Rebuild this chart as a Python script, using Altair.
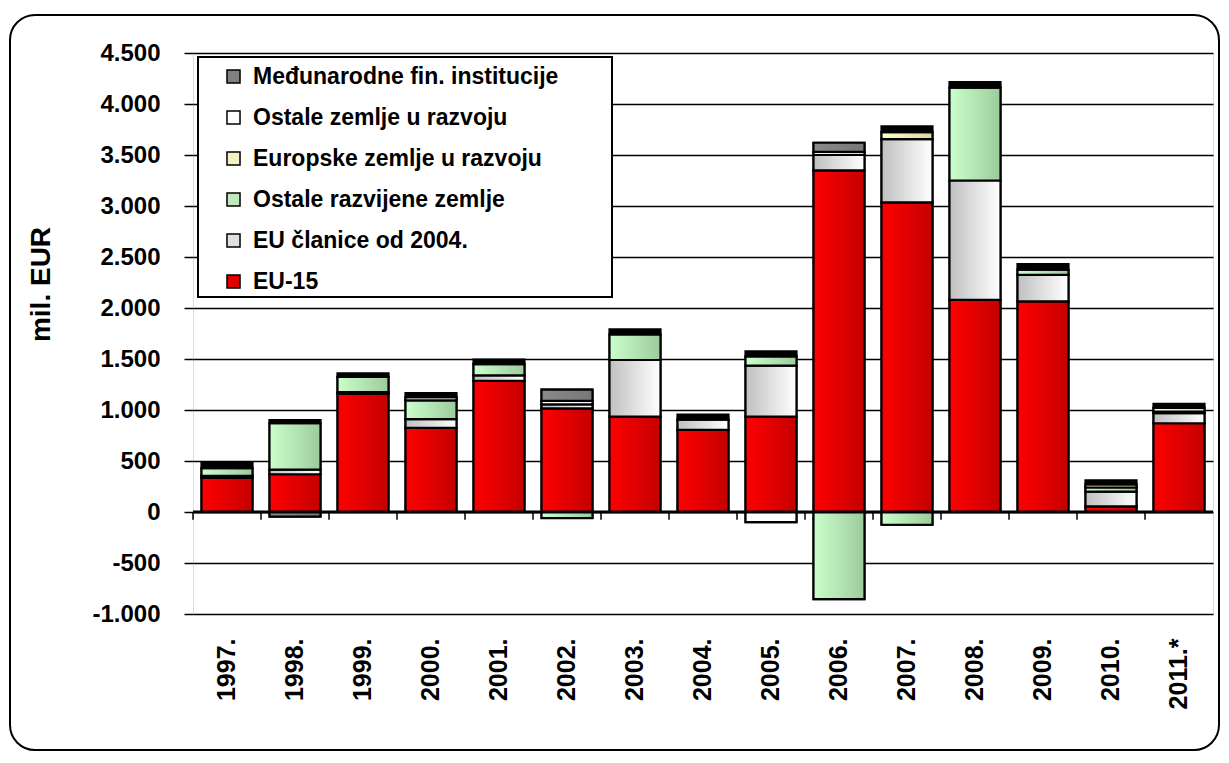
import altair as alt
import pandas as pd

years = ["1997.", "1998.", "1999.", "2000.", "2001.", "2002.", "2003.", "2004.",
         "2005.", "2006.", "2007.", "2008.", "2009.", "2010.", "2011.*"]

eu15 = [335, 370, 1160, 825, 1285, 1015, 935, 805, 935, 3350, 3035, 2080, 2065, 55, 870]
eu_2004 = [20, 45, 15, 85, 55, 40, 555, 100, 500, 150, 620, 1170, 260, 145, 100]
ostale_razvijene = [75, 455, 150, 185, 110, -60, 250, 0, 90, -855, -125, 910, 50, 40, 15]
europske_u_razvoju = [0, 0, 0, 0, 0, 0, 0, 0, 0, 30, 70, 0, 0, 30, 35]
ostale_u_razvoju = [0, 0, 0, 30, 0, 35, 0, 0, -100, 0, 0, 0, 0, 0, 0]
medjunarodne = [0, -45, 0, 0, 0, 110, 0, 0, 0, 90, 0, 0, 0, 0, 0]
ostalo = [60, 30, 35, 40, 45, 0, 50, 50, 50, 0, 55, 55, 55, 40, 40]

series_names = ["EU-15", "EU članice od 2004.", "Ostale razvijene zemlje",
                "Europske zemlje u razvoju", "Ostale zemlje u razvoju",
                "Međunarodne fin. institucije", "Ostalo"]
series_values = [eu15, eu_2004, ostale_razvijene, europske_u_razvoju,
                 ostale_u_razvoju, medjunarodne, ostalo]

legend_order = ["Međunarodne fin. institucije", "Ostale zemlje u razvoju",
                "Europske zemlje u razvoju", "Ostale razvijene zemlje",
                "EU članice od 2004.", "EU-15"]
legend_colors = ["#808080", "#FFFFFF", "#F2F2C4", "#BFE8BF", "#E0E0E0", "#E00000"]

gradients = {
    "EU-15": ("#FF0000", "#C40000"),
    "EU članice od 2004.": ("#C0C0C0", "#FFFFFF"),
    "Ostale razvijene zemlje": ("#CCFFCC", "#9CCB9C"),
    "Europske zemlje u razvoju": ("#FFFFCC", "#D8D8A8"),
    "Ostale zemlje u razvoju": ("#FFFFFF", "#FFFFFF"),
    "Međunarodne fin. institucije": ("#8A8A8A", "#777777"),
    "Ostalo": ("#000000", "#000000"),
}

rows = []
for i, (name, vals) in enumerate(zip(series_names, series_values)):
    for y, v in zip(years, vals):
        rows.append({"year": y, "series": name, "value": v, "order": i})
df = pd.DataFrame(rows)

FONT = "Liberation Sans"

xscale = alt.Scale(paddingInner=0.25, paddingOuter=0.125)
yscale = alt.Scale(domain=[-1000, 4500], nice=False)

x_enc = alt.X("year:N", sort=years, scale=xscale,
              axis=alt.Axis(title=None, labelAngle=270, labelFont=FONT,
                            labelFontSize=25, labelFontWeight="bold",
                            labelColor="black", labelPadding=24,
                            ticks=False, domain=False))
y_enc = alt.Y("v0:Q", scale=yscale,
              axis=alt.Axis(title="mil. EUR",
                            values=list(range(-1000, 4501, 500)),
                            labelExpr="(datum.value < 0 ? '-' : '') + replace(format(abs(datum.value), ','), ',', '.')",
                            labelFont=FONT, labelFontSize=24, labelFontWeight="bold",
                            labelColor="black", labelPadding=24,
                            tickSize=9, tickColor="black", tickWidth=1.5,
                            grid=True, gridColor="black", gridWidth=1.5, gridOpacity=1,
                            domain=False,
                            titleFont=FONT, titleFontSize=28, titleFontWeight="bold",
                            titleColor="black", titleAngle=270, titleX=-152, titleY=231,
                            titleAlign="center", titleBaseline="middle"))

stack_kwargs = dict(stack="value", groupby=["year"], as_=["v0", "v1"],
                    sort=[alt.SortField("order", order="ascending")])

base = alt.Chart(df).transform_stack(**stack_kwargs)

legend_layer = (
    alt.Chart(df)
    .transform_filter("datum.series != 'Ostalo'")
    .transform_stack(**stack_kwargs)
    .transform_filter("datum.value != 0")
    .mark_bar(stroke="black", strokeWidth=2)
    .encode(
        x=x_enc, y=y_enc, y2="v1:Q",
        color=alt.Color("series:N",
                        scale=alt.Scale(domain=legend_order, range=legend_colors),
                        legend=alt.Legend(title=None, orient="none", legendX=29, legendY=12,
                                          labelFont=FONT, labelFontSize=23,
                                          labelFontWeight="bold", labelColor="black",
                                          labelLimit=600, symbolType="square",
                                          symbolSize=170, symbolStrokeColor="black",
                                          symbolStrokeWidth=1.5, symbolOpacity=1,
                                          rowPadding=17, labelOffset=8, padding=0)),
    )
)

series_layers = []
for name in series_names:
    c0, c1 = gradients[name]
    grad = alt.LinearGradient(
        gradient="linear",
        stops=[alt.GradientStop(color=c0, offset=0), alt.GradientStop(color=c1, offset=1)],
        x1=0, x2=1, y1=0, y2=0,
    )
    lyr = (
        base.transform_filter(alt.FieldEqualPredicate(field="series", equal=name))
        .transform_filter("datum.value != 0")
        .mark_bar(fill=grad, stroke="black", strokeWidth=2.2)
        .encode(x=x_enc, y=y_enc, y2="v1:Q")
    )
    series_layers.append(lyr)

one = pd.DataFrame({"k": [0]})

zero_rule = alt.Chart(one).mark_rule(color="black", strokeWidth=3).encode(y=alt.datum(0))

ticks = (
    alt.Chart(pd.DataFrame({"year": years}))
    .mark_rule(color="black", strokeWidth=1.5, xOffset=-8.5)
    .encode(x=alt.X("year:N", sort=years, scale=xscale, bandPosition=0),
            y=alt.datum(0), y2=alt.datum(-75))
)

legend_box = alt.Chart(one).mark_rect(fill="white", stroke="black", strokeWidth=2).encode(
    x=alt.value(5), x2=alt.value(419), y=alt.value(4), y2=alt.value(244))

frame = alt.Chart(one).mark_rect(filled=False, stroke="black", strokeWidth=2,
                                 cornerRadius=25).encode(
    x=alt.value(-183), x2=alt.value(1026), y=alt.value(-38), y2=alt.value(697))

chart = (
    alt.layer(frame, legend_box, legend_layer, *series_layers, zero_rule, ticks)
    .properties(width=1020, height=561,
                autosize=alt.AutoSizeParams(type="none"),
                padding={"left": 185, "top": 45, "right": 8, "bottom": 138})
    .configure_view(stroke="black", strokeWidth=2)
    .configure(background="white")
)

chart.save("out.html", embed_options={"renderer": "svg", "actions": False})
